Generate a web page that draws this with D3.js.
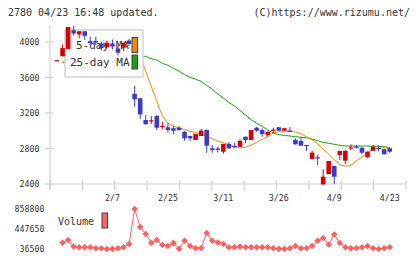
<!DOCTYPE html>
<html>
<head>
<meta charset="utf-8">
<script src="https://cdn.jsdelivr.net/npm/d3@7"></script>
<style>
  body { margin: 0; background: #fff; }
  text { font-family: "DejaVu Sans Mono", monospace; }
</style>
</head>
<body>
<div id="chart"></div>
<script>
// daily data, 2025-01-24 .. 2025-04-23
var dates = ["1/24","1/27","1/28","1/29","1/30","1/31","2/3","2/4","2/5","2/6",
  "2/7","2/10","2/12","2/13","2/14","2/17","2/18","2/19","2/20","2/21",
  "2/25","2/26","2/27","2/28","3/3","3/4","3/5","3/6","3/7","3/10",
  "3/11","3/12","3/13","3/14","3/17","3/18","3/19","3/21","3/24","3/25",
  "3/26","3/27","3/28","3/31","4/1","4/2","4/3","4/4","4/7","4/8",
  "4/9","4/10","4/11","4/14","4/15","4/16","4/17","4/18","4/21","4/22","4/23"];
var open = [3790,3839,3921,4132,4085,4121,4009,4010,3980,3944,3983,3927,3936,4017,3414,3366,3121,3110,3166,3045,
  3039,3028,3034,2989,2941,2896,2941,3008,2802,2800,2764,2851,2828,2820,2933,2896,3034,3008,2952,3005,
  3039,3001,3001,2896,2885,2839,2682,2700,2395,2513,2603,2727,2663,2805,2822,2809,2701,2775,2809,2791,2802];
var high = [3800,3970,4170,4180,4121,4125,4062,4060,4000,4017,4028,3961,3995,4034,3507,3370,3177,3165,3177,3102,
  3084,3054,3054,2995,2945,2965,3020,3015,2839,2820,2853,2873,2865,2907,2935,3010,3045,3027,2992,3034,
  3045,3030,3039,2915,2922,2840,2775,2727,2565,2660,2605,2775,2786,2847,2840,2812,2767,2839,2839,2795,2814];
var low = [3790,3839,3920,4073,4045,4025,3961,3965,3904,3929,3916,3848,3899,3955,3273,3132,3070,3075,3008,3014,
  2978,2964,3003,2888,2888,2893,2940,2753,2753,2755,2741,2795,2810,2818,2859,2893,2989,2933,2933,2971,
  2998,2998,2983,2845,2830,2775,2680,2614,2394,2510,2400,2670,2625,2783,2800,2738,2698,2772,2772,2732,2753];
var close = [3795,3932,4169,4096,4121,4070,3989,3995,3932,3992,3949,3879,3991,3978,3354,3185,3073,3118,3034,3055,
  3008,3000,3008,2915,2915,2963,3001,2832,2783,2785,2851,2802,2813,2885,2896,3008,3001,2963,2989,3012,
  3001,3028,2989,2847,2832,2828,2753,2695,2482,2659,2482,2772,2772,2812,2815,2753,2764,2820,2794,2735,2764];
var ma5 = [null,3765,3830,3900,3990,4080,4090,4055,4020,3985,3970,3950,3955,3960,3930,3840,3670,3500,3333,3166,
  3082,3054,3031,3014,2994,2980,2963,2941,2909,2885,2865,2845,2817,2813,2813,2839,2868,2903,2937,2974,
  2988,2994,2994,2988,2966,2932,2898,2854,2792,2735,2673,2617,2600,2608,2659,2704,2755,2789,2802,2806,2806];
var ma25 = [null,3769,3775,3785,3792,3800,3806,3812,3818,3824,3830,3834,3840,3846,3850,3846,3837,3813,3797,3760,
  3737,3703,3670,3634,3602,3580,3557,3510,3467,3414,3369,3318,3279,3228,3177,3125,3084,3050,3008,2975,
  2956,2947,2941,2933,2927,2921,2907,2888,2868,2859,2847,2836,2828,2828,2828,2828,2828,2826,2824,2820,2811];
var volume = [null,166000,221500,88000,71500,71500,71500,51000,51000,36500,38000,51000,71500,139000,858800,489000,345000,166000,221500,119000,
  98000,162000,40600,205000,98000,51000,57000,365000,205000,170000,139000,71500,71500,84000,71500,71500,71500,71500,71500,51000,
  40000,38000,51000,98000,51000,51000,98000,207000,263000,129000,335000,160000,71500,51000,51000,71500,98000,51000,36500,51000,71500];

var priceTicks = [2400, 2800, 3200, 3600, 4000];
var volTicks = [36500, 447650, 858800];
var dateLabels = ["2/7", "2/25", "3/11", "3/26", "4/9", "4/23"];

var w = 420, h = 259;
var svg = d3.select("#chart").append("svg").attr("width", w).attr("height", h);

var x = d3.scalePoint().domain(dates).range([57, 389.7]);
var y = d3.scaleLinear().domain([2400, 4000]).range([184, 42]);
var yv = d3.scaleLinear().domain([36500, 858800]).range([249, 209]);
var grid = d3.scaleLinear().domain([0, 11]).range([50, 406]);

var axisCol = "#d0d0d0", textCol = "#333";
var up = "#d80000", down = "#3c3cc0";

// header
svg.append("text").attr("x", 8).attr("y", 16).attr("font-size", "10px").attr("fill", textCol)
  .text("2780 04/23 16:48 updated.");
svg.append("text").attr("x", 410).attr("y", 16).attr("font-size", "10px").attr("fill", textCol)
  .attr("text-anchor", "end").text("(C)https://www.rizumu.net/");

// axes
svg.append("line").attr("x1", 50).attr("x2", 50).attr("y1", 25).attr("y2", 190)
  .attr("stroke", axisCol).attr("stroke-width", 1.2);
svg.append("line").attr("x1", 50).attr("x2", 406).attr("y1", 184).attr("y2", 184)
  .attr("stroke", axisCol).attr("stroke-width", 1.2);
svg.selectAll(".gtick").data(d3.range(12)).enter().append("line")
  .attr("x1", function(d) { return grid(d); }).attr("x2", function(d) { return grid(d); })
  .attr("y1", 180.5).attr("y2", 190)
  .attr("stroke", axisCol).attr("stroke-width", 1.2);
svg.selectAll(".ptick").data(priceTicks).enter().append("line")
  .attr("x1", 45).attr("x2", 53.5)
  .attr("y1", function(d) { return y(d); }).attr("y2", function(d) { return y(d); })
  .attr("stroke", axisCol).attr("stroke-width", 1.2);
svg.selectAll(".plabel").data(priceTicks).enter().append("text")
  .attr("x", 39.5).attr("y", function(d) { return y(d) + 3; })
  .attr("text-anchor", "end").attr("font-size", "8.3px").attr("fill", textCol)
  .text(function(d) { return d; });
svg.selectAll(".dlabel").data(dateLabels).enter().append("text")
  .attr("x", function(d) { return x(d); }).attr("y", 200.5)
  .attr("text-anchor", "middle").attr("font-size", "8.3px").attr("fill", textCol)
  .text(function(d) { return d; });

// moving averages
var idx = d3.range(dates.length);
function maLine(arr) {
  return d3.line()
    .defined(function(i) { return arr[i] != null; })
    .x(function(i) { return x(dates[i]); })
    .y(function(i) { return y(arr[i]); });
}
svg.append("path").datum(idx).attr("d", maLine(ma25))
  .attr("fill", "none").attr("stroke", "#18a018").attr("stroke-width", 1);
svg.append("path").datum(idx).attr("d", maLine(ma5))
  .attr("fill", "none").attr("stroke", "#f08c00").attr("stroke-width", 1);

// legend (covers the MA lines, candles go on top)
var lg = svg.append("g");
lg.append("rect").attr("x", 65).attr("y", 30).attr("width", 78).attr("height", 47)
  .attr("fill", "#fff").attr("stroke", "#d4d4d4").attr("stroke-width", 1.5);
lg.append("text").attr("x", 76).attr("y", 49).attr("font-size", "11px").attr("fill", textCol).text("5-day MA");
lg.append("text").attr("x", 70).attr("y", 66).attr("font-size", "11px").attr("fill", textCol).text("25-day MA");
lg.append("rect").attr("x", 132).attr("y", 37.5).attr("width", 5.5).attr("height", 15)
  .attr("fill", "#f08c00").attr("stroke", "#444").attr("stroke-width", 1);
lg.append("rect").attr("x", 132).attr("y", 55).attr("width", 5.5).attr("height", 14)
  .attr("fill", "#18a018").attr("stroke", "#444").attr("stroke-width", 1);

// candles
var bw = 4.6;
var candles = svg.selectAll(".candle").data(idx).enter().append("g");
candles.append("line")
  .attr("x1", function(i) { return x(dates[i]); }).attr("x2", function(i) { return x(dates[i]); })
  .attr("y1", function(i) { return y(high[i]); }).attr("y2", function(i) { return y(low[i]); })
  .attr("stroke", function(i) { return close[i] >= open[i] ? up : down; })
  .attr("stroke-width", 1);
candles.append("rect")
  .attr("x", function(i) { return x(dates[i]) - bw / 2; })
  .attr("width", bw)
  .attr("y", function(i) { return y(Math.max(open[i], close[i])); })
  .attr("height", function(i) { return Math.max(1.2, Math.abs(y(open[i]) - y(close[i]))); })
  .attr("fill", function(i) { return close[i] >= open[i] ? up : down; });

// volume
var vcol = "#ff6060";
svg.selectAll(".vlabel").data(volTicks).enter().append("text")
  .attr("x", 44.5).attr("y", function(d) { return yv(d) + 3; })
  .attr("text-anchor", "end").attr("font-size", "8.3px").attr("fill", textCol)
  .text(function(d) { return d; });
svg.append("text").attr("x", 58).attr("y", 225).attr("font-size", "10px").attr("fill", textCol).text("Volume");
svg.append("rect").attr("x", 102).attr("y", 213).attr("width", 5.5).attr("height", 15)
  .attr("fill", vcol).attr("stroke", "#444").attr("stroke-width", 1);

var vidx = idx.filter(function(i) { return volume[i] != null; });
svg.append("path").datum(vidx)
  .attr("d", d3.line().x(function(i) { return x(dates[i]); }).y(function(i) { return yv(volume[i]); }))
  .attr("fill", "none").attr("stroke", vcol).attr("stroke-width", 1);
svg.selectAll(".vpt").data(vidx).enter().append("path")
  .attr("d", d3.symbol().type(d3.symbolSquare).size(22))
  .attr("transform", function(i) { return "translate(" + x(dates[i]) + "," + yv(volume[i]) + ") rotate(45)"; })
  .attr("fill", vcol);
</script>
</body>
</html>
